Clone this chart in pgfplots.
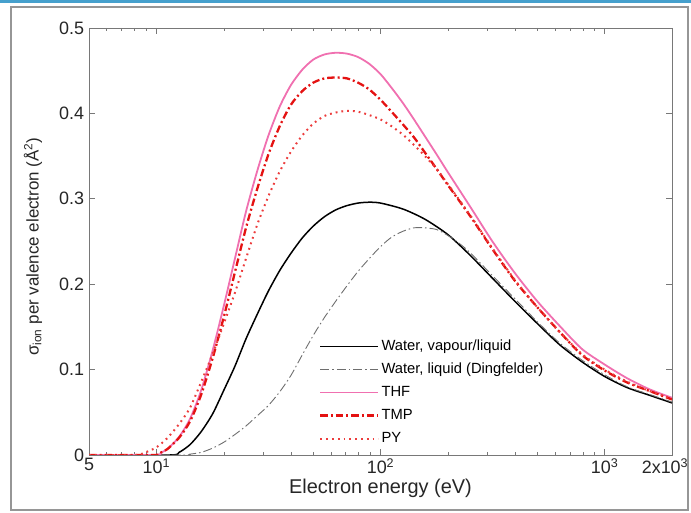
\documentclass[border=0pt]{standalone}
\usepackage{fontspec}
\setmainfont{Liberation Sans}
\usepackage{pgfplots}
\pgfplotsset{compat=1.18}
\definecolor{thf}{RGB}{240,112,176}
\definecolor{tmp}{RGB}{228,18,18}
\definecolor{py}{RGB}{236,60,60}
\definecolor{dgray}{RGB}{110,110,110}
\definecolor{topblue}{RGB}{70,160,205}
\definecolor{framegray}{RGB}{150,150,150}
\definecolor{axgray}{RGB}{120,120,120}
\begin{document}
\begin{tikzpicture}
\useasboundingbox (0,0) rectangle (691bp,513bp);
\fill[topblue] (0,510bp) rectangle (691bp,513bp);
\draw[framegray, line width=1.5bp] (11bp,3bp) rectangle (688bp,506bp);
\begin{axis}[
  at={(89bp,58bp)}, anchor=south west, scale only axis,
  width=583bp, height=427bp,
  xmode=log, xmin=5, xmax=2000, ymin=0, ymax=0.5,
  xtick={5,10,100,1000,2000},
  xticklabels={5,10\textsuperscript{1},10\textsuperscript{2},10\textsuperscript{3},2x10\textsuperscript{3}\hspace*{14bp}},
  minor xtick={6,7,8,9,20,30,40,50,60,70,80,90,200,300,400,500,600,700,800,900},
  ytick={0,0.1,0.2,0.3,0.4,0.5},
  yticklabels={0,0.1,0.2,0.3,0.4,0.5},
  tick align=inside,
  major tick length=6bp, minor tick length=3.5bp,
  axis line style={draw=axgray, line width=0.8bp},
  every tick/.style={axgray, line width=0.6bp},
  ticklabel style={font=\fontsize{18}{21}\selectfont, text=black!85},
  yticklabel style={xshift=-1.5bp},
  xlabel={Electron energy (eV)},
  ylabel={σ\textsubscript{ion} per valence electron (Å\textsuperscript{2})},
  xlabel style={font=\fontsize{20}{23}\selectfont, text=black!85, at={(axis description cs:0.5,-0.079)}, anchor=center},
  ylabel style={font=\fontsize{17}{20}\selectfont, text=black!85, at={(axis description cs:-0.096,0.488)}, anchor=center},
  legend cell align=left,
  legend image code/.code={\draw[#1] (0bp,0bp) -- (58bp,0bp);},
  legend style={draw=none, fill=none, inner sep=0pt,
    at={(axis description cs:0.3945,0.276)}, anchor=north west,
    font=\fontsize{14.8}{17}\selectfont,
    row sep=4.5bp,
    nodes={inner sep=2bp, text height=11bp, text depth=3.5bp}},
  every axis plot/.append style={smooth, tension=0.45},
]
\addplot[black, line width=1.5bp] coordinates {
(5,0) (11.5,0) (12.6,0.003) (14.1,0.012) (15.8,0.027) (17.8,0.048) (20,0.076)
(22.4,0.104) (25.1,0.136) (28.2,0.165) (31.6,0.192) (35.5,0.216) (39.8,0.236)
(44.7,0.254) (50.1,0.268) (56.2,0.279) (63.1,0.287) (70.8,0.292) (79.4,0.295)
(89.1,0.296) (100,0.295) (126,0.288) (158,0.276) (200,0.258) (251,0.234)
(316,0.207) (398,0.180) (501,0.154) (631,0.129) (794,0.109) (1000,0.092)
(1259,0.079) (1585,0.070) (2000,0.061)};
\addlegendentry{Water, vapour/liquid}
\addplot[dgray, line width=0.9bp, dash pattern=on 9bp off 3bp on 1.5bp off 3bp] coordinates {
(5,0) (13,0) (14.1,0.001) (15.8,0.003) (17.8,0.008) (20,0.015) (22.4,0.024)
(25.1,0.034) (28.2,0.046) (31.6,0.058) (35.5,0.074) (39.8,0.093) (44.7,0.117)
(50.1,0.140) (56.2,0.161) (63.1,0.180) (70.8,0.198) (79.4,0.215) (89.1,0.230)
(100,0.244) (112,0.255) (126,0.262) (141,0.266) (158,0.266) (178,0.264)
(200,0.257) (224,0.248) (251,0.237) (316,0.210) (398,0.183) (501,0.156)
(631,0.131) (794,0.111) (1000,0.094) (1259,0.080) (1585,0.071) (2000,0.062)};
\addlegendentry{Water, liquid (Dingfelder)}
\addplot[thf, line width=1.8bp] coordinates {
(5,0) (9.8,0) (10.5,0.003) (11.2,0.007) (12.6,0.021) (14.1,0.042) (15.8,0.075)
(17.8,0.122) (20,0.175) (22.4,0.230) (25.1,0.285) (28.2,0.333) (31.6,0.374)
(35.5,0.408) (39.8,0.433) (44.7,0.451) (50.1,0.463) (56.2,0.469) (63.1,0.471)
(70.8,0.470) (79.4,0.466) (89.1,0.458) (100,0.446) (112,0.430) (126,0.412)
(141,0.393) (158,0.373) (178,0.352) (200,0.331) (251,0.291) (316,0.250)
(398,0.213) (501,0.180) (631,0.151) (794,0.124) (1000,0.106) (1259,0.090)
(1585,0.077) (2000,0.067)};
\addlegendentry{THF}
\addplot[tmp, line width=2.3bp, dash pattern=on 7.5bp off 3bp on 2bp off 3bp] coordinates {
(5,0) (9.8,0) (10.5,0.003) (11.2,0.007) (12.6,0.020) (14.1,0.039) (15.8,0.070)
(17.8,0.113) (20,0.162) (22.4,0.214) (25.1,0.266) (28.2,0.312) (31.6,0.352)
(35.5,0.385) (39.8,0.410) (44.7,0.426) (50.1,0.436) (56.2,0.441) (63.1,0.442)
(70.8,0.441) (79.4,0.436) (89.1,0.428) (100,0.416) (112,0.402) (126,0.387)
(141,0.372) (158,0.354) (178,0.335) (200,0.316) (251,0.280) (316,0.241)
(398,0.204) (501,0.173) (631,0.144) (794,0.117) (1000,0.099) (1259,0.085)
(1585,0.075) (2000,0.065)};
\addlegendentry{TMP}
\addplot[py, line width=2bp, dash pattern=on 1.8bp off 4bp] coordinates {
(5,0) (8,0) (8.9,0.003) (10,0.009) (11.2,0.020) (12.6,0.036) (14.1,0.055)
(15.8,0.085) (17.8,0.118) (20,0.154) (22.4,0.190) (25.1,0.230) (28.2,0.270)
(31.6,0.303) (35.5,0.332) (39.8,0.355) (44.7,0.374) (50.1,0.388) (56.2,0.397)
(63.1,0.401) (70.8,0.403) (79.4,0.402) (89.1,0.398) (100,0.393) (112,0.385)
(126,0.375) (141,0.363) (158,0.350) (178,0.335) (200,0.317) (251,0.281)
(316,0.242) (398,0.205) (501,0.173) (631,0.144) (794,0.118) (1000,0.100)
(1259,0.086) (1585,0.075) (2000,0.066)};
\addlegendentry{PY}
\end{axis}
\end{tikzpicture}
\end{document}
